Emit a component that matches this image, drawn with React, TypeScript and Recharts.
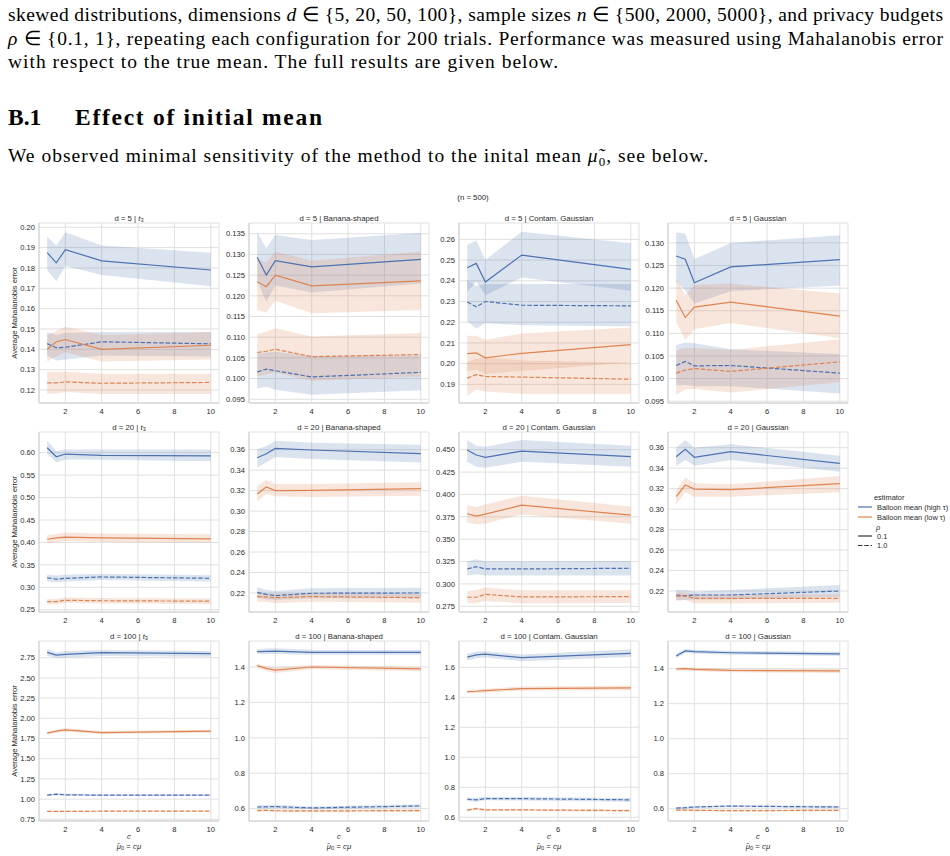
import React from 'react';
import { ComposedChart, Line, Area, XAxis, YAxis, CartesianGrid } from 'recharts';

type Tri = [number, number, number]; // [mean, lower, upper]

const C_VALUES = [1, 1.5, 2, 4, 10];
const X_TICKS = [2, 4, 6, 8, 10];
const DIMS = [5, 20, 100];
const DISTS = ['t3', 'Banana-shaped', 'Contam. Gaussian', 'Gaussian'];
const ESTIMATORS = ['Balloon mean (high τ)', 'Balloon mean (low τ)'];
const RHOS = ['0.1', '1.0'];

// ---------- d = 5 ----------
const d5_t3_high01: Tri[] = [[0.1875, 0.179, 0.1955], [0.1825, 0.1735, 0.191], [0.189, 0.181, 0.1975], [0.1835, 0.1765, 0.191], [0.179, 0.171, 0.1875]];
const d5_t3_high10: Tri[] = [[0.1428, 0.137, 0.1485], [0.1408, 0.1345, 0.147], [0.141, 0.135, 0.148], [0.1437, 0.137, 0.1485], [0.1427, 0.1365, 0.1485]];
const d5_t3_low01: Tri[] = [[0.140, 0.134, 0.147], [0.1437, 0.1365, 0.149], [0.1448, 0.1385, 0.1512], [0.140, 0.134, 0.147], [0.142, 0.135, 0.1485]];
const d5_t3_low10: Tri[] = [[0.1235, 0.118, 0.129], [0.1235, 0.1183, 0.1288], [0.124, 0.119, 0.129], [0.1233, 0.118, 0.128], [0.1237, 0.118, 0.128]];

const d5_ban_high01: Tri[] = [[0.1293, 0.1235, 0.1354], [0.125, 0.1185, 0.1315], [0.1285, 0.1225, 0.1347], [0.127, 0.1208, 0.1335], [0.1288, 0.123, 0.1352]];
const d5_ban_high10: Tri[] = [[0.1016, 0.0976, 0.106], [0.1023, 0.098, 0.1063], [0.1019, 0.0973, 0.1065], [0.1004, 0.0961, 0.1055], [0.1015, 0.0972, 0.1056]];
const d5_ban_low01: Tri[] = [[0.1234, 0.1166, 0.129], [0.1222, 0.116, 0.128], [0.125, 0.1188, 0.1307], [0.1224, 0.1158, 0.1285], [0.1236, 0.1166, 0.1307]];
const d5_ban_low10: Tri[] = [[0.1063, 0.1005, 0.1107], [0.1066, 0.101, 0.1113], [0.1071, 0.1015, 0.1122], [0.1053, 0.0995, 0.1102], [0.1058, 0.1005, 0.111]];

const d5_con_high01: Tri[] = [[0.2463, 0.2347, 0.2573], [0.2484, 0.2395, 0.2594], [0.2394, 0.233, 0.25], [0.2524, 0.2416, 0.2637], [0.2455, 0.2352, 0.2581]];
const d5_con_high10: Tri[] = [[0.2298, 0.2205, 0.2403], [0.2274, 0.217, 0.2375], [0.23, 0.2195, 0.2385], [0.2282, 0.2185, 0.2385], [0.2279, 0.218, 0.2385]];
const d5_con_low01: Tri[] = [[0.2048, 0.1965, 0.2135], [0.2052, 0.197, 0.2135], [0.2028, 0.195, 0.2115], [0.205, 0.1965, 0.2145], [0.2092, 0.2005, 0.2175]];
const d5_con_low10: Tri[] = [[0.193, 0.1845, 0.2005], [0.1947, 0.1875, 0.2025], [0.1938, 0.1865, 0.203], [0.1935, 0.1855, 0.2015], [0.1925, 0.1855, 0.2005]];

const d5_gau_high01: Tri[] = [[0.1271, 0.1214, 0.1323], [0.1264, 0.1195, 0.1321], [0.1212, 0.1166, 0.1264], [0.1247, 0.1193, 0.130], [0.1263, 0.1206, 0.1317]];
const d5_gau_high10: Tri[] = [[0.1029, 0.0985, 0.1074], [0.1038, 0.0986, 0.108], [0.1028, 0.0983, 0.1078], [0.1029, 0.0983, 0.1065], [0.1012, 0.0967, 0.1054]];
const d5_gau_low01: Tri[] = [[0.1173, 0.1125, 0.1221], [0.1135, 0.1085, 0.1184], [0.1158, 0.1109, 0.1207], [0.1169, 0.1123, 0.121], [0.1138, 0.1089, 0.1188]];
const d5_gau_low10: Tri[] = [[0.1012, 0.0964, 0.1062], [0.1019, 0.0976, 0.1068], [0.1022, 0.0977, 0.1067], [0.1016, 0.0969, 0.1064], [0.1037, 0.0992, 0.1087]];

// ---------- d = 20 ----------
const d20_t3_high01: Tri[] = [[0.611, 0.597, 0.627], [0.591, 0.578, 0.604], [0.597, 0.585, 0.607], [0.594, 0.584, 0.607], [0.593, 0.581, 0.607]];
const d20_t3_high10: Tri[] = [[0.321, 0.313, 0.328], [0.318, 0.311, 0.326], [0.32, 0.313, 0.328], [0.323, 0.316, 0.33], [0.32, 0.313, 0.327]];
const d20_t3_low01: Tri[] = [[0.407, 0.398, 0.416], [0.41, 0.401, 0.419], [0.412, 0.403, 0.422], [0.41, 0.401, 0.42], [0.408, 0.399, 0.418]];
const d20_t3_low10: Tri[] = [[0.268, 0.262, 0.274], [0.268, 0.262, 0.274], [0.271, 0.265, 0.277], [0.27, 0.264, 0.276], [0.269, 0.263, 0.275]];

const d20_ban_high01: Tri[] = [[0.3522, 0.3427, 0.3607], [0.3561, 0.3476, 0.3633], [0.3613, 0.3528, 0.3688], [0.3597, 0.3509, 0.3668], [0.3561, 0.3476, 0.3649]];
const d20_ban_high10: Tri[] = [[0.2206, 0.2154, 0.2255], [0.2187, 0.2138, 0.2229], [0.2174, 0.2131, 0.2219], [0.2197, 0.2148, 0.2245], [0.22, 0.2148, 0.2252]];
const d20_ban_low01: Tri[] = [[0.3167, 0.3095, 0.3242], [0.3236, 0.3167, 0.3304], [0.32, 0.3145, 0.3265], [0.3203, 0.3138, 0.3265], [0.3219, 0.3151, 0.3282]];
const d20_ban_low10: Tri[] = [[0.2164, 0.2115, 0.2203], [0.2161, 0.2115, 0.2193], [0.2154, 0.2099, 0.219], [0.2164, 0.2115, 0.2197], [0.2154, 0.2105, 0.219]];

const d20_con_high01: Tri[] = [[0.4496, 0.4366, 0.4608], [0.4441, 0.431, 0.4545], [0.4414, 0.4299, 0.4534], [0.4485, 0.4366, 0.4608], [0.4422, 0.431, 0.4545]];
const d20_con_high10: Tri[] = [[0.3167, 0.3093, 0.325], [0.3193, 0.3108, 0.3276], [0.3167, 0.3093, 0.325], [0.3167, 0.3093, 0.325], [0.3175, 0.3093, 0.3257]];
const d20_con_low01: Tri[] = [[0.3784, 0.3687, 0.388], [0.3757, 0.3668, 0.3861], [0.378, 0.3676, 0.3888], [0.388, 0.3776, 0.3985], [0.3768, 0.3672, 0.3865]];
const d20_con_low10: Tri[] = [[0.2851, 0.2783, 0.2921], [0.2851, 0.2783, 0.2929], [0.2884, 0.281, 0.2959], [0.2854, 0.2783, 0.2929], [0.2858, 0.2786, 0.2929]];

const d20_gau_high01: Tri[] = [[0.3512, 0.3421, 0.36], [0.3584, 0.348, 0.3675], [0.3506, 0.3424, 0.36], [0.3561, 0.348, 0.3633], [0.3447, 0.3365, 0.3522]];
const d20_gau_high10: Tri[] = [[0.2161, 0.2112, 0.221], [0.2154, 0.2112, 0.221], [0.2161, 0.2118, 0.2193], [0.2161, 0.2118, 0.221], [0.22, 0.2144, 0.2258]];
const d20_gau_low01: Tri[] = [[0.3121, 0.3046, 0.3186], [0.3235, 0.3164, 0.3307], [0.3196, 0.3121, 0.3252], [0.319, 0.3121, 0.3242], [0.3248, 0.3164, 0.3323]];
const d20_gau_low10: Tri[] = [[0.2151, 0.2102, 0.2187], [0.2151, 0.2112, 0.2187], [0.2128, 0.2079, 0.2167], [0.2128, 0.2079, 0.2167], [0.2128, 0.2086, 0.2167]];

// ---------- d = 100 ----------
const d100_t3_high01: Tri[] = [[2.816, 2.775, 2.857], [2.783, 2.75, 2.816], [2.791, 2.75, 2.832], [2.812, 2.771, 2.845], [2.80, 2.762, 2.832]];
const d100_t3_high10: Tri[] = [[1.049, 1.038, 1.06], [1.061, 1.045, 1.075], [1.053, 1.04, 1.065], [1.049, 1.038, 1.06], [1.049, 1.038, 1.06]];
const d100_t3_low01: Tri[] = [[1.816, 1.798, 1.835], [1.841, 1.822, 1.86], [1.857, 1.835, 1.88], [1.824, 1.806, 1.842], [1.841, 1.822, 1.86]];
const d100_t3_low10: Tri[] = [[0.847, 0.838, 0.855], [0.847, 0.838, 0.855], [0.848, 0.84, 0.856], [0.85, 0.842, 0.858], [0.85, 0.842, 0.858]];

const d100_ban_high01: Tri[] = [[1.487, 1.474, 1.50], [1.488, 1.472, 1.505], [1.49, 1.474, 1.506], [1.483, 1.47, 1.497], [1.483, 1.47, 1.497]];
const d100_ban_high10: Tri[] = [[0.609, 0.60, 0.618], [0.61, 0.601, 0.62], [0.611, 0.602, 0.62], [0.604, 0.596, 0.612], [0.615, 0.606, 0.624]];
const d100_ban_low01: Tri[] = [[1.4075, 1.395, 1.42], [1.392, 1.378, 1.405], [1.383, 1.366, 1.398], [1.40, 1.388, 1.412], [1.389, 1.376, 1.402]];
const d100_ban_low10: Tri[] = [[0.589, 0.582, 0.596], [0.59, 0.583, 0.597], [0.588, 0.581, 0.595], [0.587, 0.58, 0.594], [0.589, 0.582, 0.596]];

const d100_con_high01: Tri[] = [[1.667, 1.645, 1.69], [1.682, 1.66, 1.705], [1.687, 1.665, 1.707], [1.664, 1.64, 1.685], [1.693, 1.668, 1.72]];
const d100_con_high10: Tri[] = [[0.72, 0.708, 0.732], [0.716, 0.703, 0.73], [0.724, 0.713, 0.735], [0.724, 0.712, 0.735], [0.716, 0.703, 0.728]];
const d100_con_low01: Tri[] = [[1.438, 1.425, 1.452], [1.44, 1.428, 1.452], [1.444, 1.43, 1.456], [1.458, 1.444, 1.472], [1.462, 1.447, 1.478]];
const d100_con_low10: Tri[] = [[0.647, 0.638, 0.655], [0.658, 0.648, 0.665], [0.649, 0.641, 0.656], [0.649, 0.641, 0.656], [0.644, 0.636, 0.651]];

const d100_gau_high01: Tri[] = [[1.472, 1.46, 1.485], [1.501, 1.49, 1.512], [1.497, 1.486, 1.508], [1.491, 1.48, 1.502], [1.484, 1.472, 1.497]];
const d100_gau_high10: Tri[] = [[0.604, 0.598, 0.61], [0.606, 0.60, 0.612], [0.61, 0.604, 0.616], [0.615, 0.608, 0.622], [0.61, 0.603, 0.617]];
const d100_gau_low01: Tri[] = [[1.398, 1.388, 1.408], [1.40, 1.39, 1.41], [1.396, 1.386, 1.406], [1.39, 1.38, 1.40], [1.387, 1.375, 1.397]];
const d100_gau_low10: Tri[] = [[0.592, 0.587, 0.597], [0.592, 0.587, 0.597], [0.591, 0.586, 0.596], [0.589, 0.584, 0.594], [0.591, 0.586, 0.596]];

// ---------- y tick labels per panel ----------
const TICKS_d5_t3 = ['0.12', '0.13', '0.14', '0.15', '0.16', '0.17', '0.18', '0.19', '0.20'];
const TICKS_d5_ban = ['0.095', '0.100', '0.105', '0.110', '0.115', '0.120', '0.125', '0.130', '0.135'];
const TICKS_d5_con = ['0.19', '0.20', '0.21', '0.22', '0.23', '0.24', '0.25', '0.26'];
const TICKS_d5_gau = ['0.095', '0.100', '0.105', '0.110', '0.115', '0.120', '0.125', '0.130'];
const TICKS_d20_t3 = ['0.25', '0.30', '0.35', '0.40', '0.45', '0.50', '0.55', '0.60'];
const TICKS_d20_ban = ['0.22', '0.24', '0.26', '0.28', '0.30', '0.32', '0.34', '0.36'];
const TICKS_d20_con = ['0.275', '0.300', '0.325', '0.350', '0.375', '0.400', '0.425', '0.450'];
const TICKS_d20_gau = ['0.22', '0.24', '0.26', '0.28', '0.30', '0.32', '0.34', '0.36'];
const TICKS_d100_t3 = ['0.75', '1.00', '1.25', '1.50', '1.75', '2.00', '2.25', '2.50', '2.75'];
const TICKS_d100_ban = ['0.6', '0.8', '1.0', '1.2', '1.4'];
const TICKS_d100_con = ['0.6', '0.8', '1.0', '1.2', '1.4', '1.6'];
const TICKS_d100_gau = ['0.6', '0.8', '1.0', '1.2', '1.4'];

type Panel = {
  dim: number; dist: string;
  high01: Tri[]; high10: Tri[]; low01: Tri[]; low10: Tri[];
  ticks: string[]; domain: [number, number];
};

const PANELS: Panel[][] = [
  [
    { dim: DIMS[0], dist: DISTS[0], high01: d5_t3_high01, high10: d5_t3_high10, low01: d5_t3_low01, low10: d5_t3_low10, ticks: TICKS_d5_t3, domain: [0.1136, 0.2021] },
    { dim: DIMS[0], dist: DISTS[1], high01: d5_ban_high01, high10: d5_ban_high10, low01: d5_ban_low01, low10: d5_ban_low10, ticks: TICKS_d5_ban, domain: [0.0941, 0.1376] },
    { dim: DIMS[0], dist: DISTS[2], high01: d5_con_high01, high10: d5_con_high10, low01: d5_con_low01, low10: d5_con_low10, ticks: TICKS_d5_con, domain: [0.181, 0.2679] },
    { dim: DIMS[0], dist: DISTS[3], high01: d5_gau_high01, high10: d5_gau_high10, low01: d5_gau_low01, low10: d5_gau_low10, ticks: TICKS_d5_gau, domain: [0.0946, 0.1344] },
  ],
  [
    { dim: DIMS[1], dist: DISTS[0], high01: d20_t3_high01, high10: d20_t3_high10, low01: d20_t3_low01, low10: d20_t3_low10, ticks: TICKS_d20_t3, domain: [0.2449, 0.6461] },
    { dim: DIMS[1], dist: DISTS[1], high01: d20_ban_high01, high10: d20_ban_high10, low01: d20_ban_low01, low10: d20_ban_low10, ticks: TICKS_d20_ban, domain: [0.2014, 0.3773] },
    { dim: DIMS[1], dist: DISTS[2], high01: d20_con_high01, high10: d20_con_high10, low01: d20_con_low01, low10: d20_con_low10, ticks: TICKS_d20_con, domain: [0.2686, 0.4698] },
    { dim: DIMS[1], dist: DISTS[3], high01: d20_gau_high01, high10: d20_gau_high10, low01: d20_gau_low01, low10: d20_gau_low10, ticks: TICKS_d20_gau, domain: [0.1995, 0.3753] },
  ],
  [
    { dim: DIMS[2], dist: DISTS[0], high01: d100_t3_high01, high10: d100_t3_high10, low01: d100_t3_low01, low10: d100_t3_low10, ticks: TICKS_d100_t3, domain: [0.729, 2.957] },
    { dim: DIMS[2], dist: DISTS[1], high01: d100_ban_high01, high10: d100_ban_high10, low01: d100_ban_low01, low10: d100_ban_low10, ticks: TICKS_d100_ban, domain: [0.530, 1.547] },
    { dim: DIMS[2], dist: DISTS[2], high01: d100_con_high01, high10: d100_con_high10, low01: d100_con_low01, low10: d100_con_low10, ticks: TICKS_d100_con, domain: [0.575, 1.775] },
    { dim: DIMS[2], dist: DISTS[3], high01: d100_gau_high01, high10: d100_gau_high10, low01: d100_gau_low01, low10: d100_gau_low10, ticks: TICKS_d100_gau, domain: [0.530, 1.558] },
  ],
];

// ---------- layout / style ----------
const COL_LEFT = [39, 249, 459, 668];
const ROW_TOP = [223, 432, 641];
const PLOT_W = 180;
const PLOT_H = 180;
const Y_AXIS_W = 45;
const X_AXIS_H = 22;
const M_TOP = 5;
const M_RIGHT = 6;

const BLUE = '#4c72b0';
const ORANGE = '#dd8452';
const GRID = '#e0e0e0';
const SPINE = '#d0d0d0';
const TEXT = '#2a2a2a';
const SANS = 'Liberation Sans, Arial, Helvetica, sans-serif';
const SERIF = 'Liberation Serif, Times New Roman, serif';
const TICK_FS = 7.6;

function buildRows(p: Panel) {
  return C_VALUES.map((c, i) => ({
    c,
    h01: p.high01[i][0], h01b: [p.high01[i][1], p.high01[i][2]],
    h10: p.high10[i][0], h10b: [p.high10[i][1], p.high10[i][2]],
    l01: p.low01[i][0], l01b: [p.low01[i][1], p.low01[i][2]],
    l10: p.low10[i][0], l10b: [p.low10[i][1], p.low10[i][2]],
  }));
}

function PanelChart({ p, r, c }: { p: Panel; r: number; c: number }) {
  const rows = buildRows(p);
  const ticks = p.ticks.map(Number);
  const dec = p.ticks[0].split('.')[1]?.length ?? 0;
  const tickStyle = { fontSize: TICK_FS, fill: TEXT, style: { fontFamily: SANS } };
  return (
    <div style={{ position: 'absolute', left: COL_LEFT[c] - Y_AXIS_W, top: ROW_TOP[r] - M_TOP }}>
      <ComposedChart
        width={Y_AXIS_W + PLOT_W + M_RIGHT}
        height={M_TOP + PLOT_H + X_AXIS_H}
        data={rows}
        margin={{ top: M_TOP, right: M_RIGHT, bottom: 0, left: 0 }}
        style={{ fontFamily: SANS }}
      >
        <CartesianGrid stroke={GRID} strokeWidth={1} />
        <XAxis
          type="number" dataKey="c" domain={[0.55, 10.45]} ticks={X_TICKS} interval={0}
          height={X_AXIS_H} tickLine={false} tickSize={3} tickMargin={2.5}
          axisLine={{ stroke: SPINE, strokeWidth: 1 }}
          tick={tickStyle}
        />
        <YAxis
          type="number" domain={p.domain} ticks={ticks} interval={0} width={Y_AXIS_W}
          tickLine={false} tickSize={2} tickMargin={2}
          axisLine={{ stroke: SPINE, strokeWidth: 1 }}
          tickFormatter={(v: number) => v.toFixed(dec)}
          tick={tickStyle}
        />
        <Area type="linear" dataKey="h01b" stroke="none" fill={BLUE} fillOpacity={0.2} isAnimationActive={false} activeDot={false} />
        <Area type="linear" dataKey="h10b" stroke="none" fill={BLUE} fillOpacity={0.2} isAnimationActive={false} activeDot={false} />
        <Area type="linear" dataKey="l01b" stroke="none" fill={ORANGE} fillOpacity={0.2} isAnimationActive={false} activeDot={false} />
        <Area type="linear" dataKey="l10b" stroke="none" fill={ORANGE} fillOpacity={0.2} isAnimationActive={false} activeDot={false} />
        <Line type="linear" dataKey="h01" stroke={BLUE} strokeWidth={1.2} dot={false} activeDot={false} isAnimationActive={false} />
        <Line type="linear" dataKey="h10" stroke={BLUE} strokeWidth={1.2} strokeDasharray="4.5 1.8" dot={false} activeDot={false} isAnimationActive={false} />
        <Line type="linear" dataKey="l01" stroke={ORANGE} strokeWidth={1.2} dot={false} activeDot={false} isAnimationActive={false} />
        <Line type="linear" dataKey="l10" stroke={ORANGE} strokeWidth={1.2} strokeDasharray="4.5 1.8" dot={false} activeDot={false} isAnimationActive={false} />
      </ComposedChart>
    </div>
  );
}

function PanelTitle({ p, r, c }: { p: Panel; r: number; c: number }) {
  const cx = COL_LEFT[c] + PLOT_W / 2;
  const y = ROW_TOP[r] - 2.5;
  return (
    <text x={cx} y={y} textAnchor="middle" fontSize={7.8} fill={TEXT} style={{ fontFamily: SANS }}>
      {`d = ${p.dim} | `}
      {p.dist === 't3' ? (
        <>
          <tspan fontStyle="italic">t</tspan>
          <tspan fontSize={5.6} dy={1.6}>3</tspan>
        </>
      ) : p.dist}
    </text>
  );
}

export default function App() {
  return (
    <div style={{ position: 'absolute', left: 0, top: 0, width: 950, height: 856, background: '#ffffff', overflow: 'hidden' }}>
      {PANELS.map((row, r) => row.map((p, c) => <PanelChart key={`${r}-${c}`} p={p} r={r} c={c} />))}
      <svg width={950} height={856} style={{ position: 'absolute', left: 0, top: 0, pointerEvents: 'none' }}>
        {/* paper text */}
        <g fill="#000" fontSize={19.5} style={{ fontFamily: SERIF }}>
          <text x={8} y={21} textLength={935} lengthAdjust="spacing">
            skewed distributions, dimensions <tspan fontStyle="italic">d</tspan> ∈ {'{'}5, 20, 50, 100{'}'}, sample sizes <tspan fontStyle="italic">n</tspan> ∈ {'{'}500, 2000, 5000{'}'}, and privacy budgets
          </text>
          <text x={8} y={45} textLength={935} lengthAdjust="spacing">
            <tspan fontStyle="italic">ρ</tspan> ∈ {'{'}0.1, 1{'}'}, repeating each configuration for 200 trials. Performance was measured using Mahalanobis error
          </text>
          <text x={8} y={68} textLength={550} lengthAdjust="spacing">
            with respect to the true mean. The full results are given below.
          </text>
          <text x={8} y={125} fontWeight="bold" fontSize={23.5}>B.1</text>
          <text x={75} y={125} fontWeight="bold" fontSize={23.5} textLength={247} lengthAdjust="spacing">Effect of initial mean</text>
          <text x={8} y={162} textLength={700} lengthAdjust="spacing">
            We observed minimal sensitivity of the method to the inital mean <tspan fontStyle="italic">μ̃</tspan><tspan fontSize={13} dy={4}>0</tspan><tspan dy={-4}>, see below.</tspan>
          </text>
        </g>

        {/* figure suptitle */}
        <text x={473} y={200} textAnchor="middle" fontSize={7.8} fill={TEXT} style={{ fontFamily: SANS }}>(n = 500)</text>

        {PANELS.map((row, r) => row.map((p, c) => <PanelTitle key={`t${r}-${c}`} p={p} r={r} c={c} />))}

        {/* y axis labels */}
        {ROW_TOP.map((t, r) => (
          <text key={`yl${r}`} transform={`translate(16.5, ${t + PLOT_H / 2}) rotate(-90)`} textAnchor="middle"
            fontSize={7.6} fill={TEXT} style={{ fontFamily: SANS }}>Average Mahalanobis error</text>
        ))}

        {/* x axis labels (bottom row) */}
        {COL_LEFT.map((l, c) => (
          <g key={`xl${c}`} fill={TEXT} fontSize={7.8} style={{ fontFamily: SANS }}>
            <text x={l + PLOT_W / 2} y={838.5} textAnchor="middle" fontStyle="italic">c</text>
            <text x={l + PLOT_W / 2} y={848.5} textAnchor="middle">
              <tspan fontStyle="italic">μ̃</tspan><tspan fontSize={5.6} dy={1.6}>0</tspan><tspan dy={-1.6}> = </tspan><tspan fontStyle="italic">cμ</tspan>
            </text>
          </g>
        ))}

        {/* legend */}
        <g fill={TEXT} fontSize={7.4} style={{ fontFamily: SANS }}>
          <text x={874} y={499.5}>estimator</text>
          <line x1={858} x2={872} y1={507} y2={507} stroke={BLUE} strokeWidth={1.2} />
          <text x={877} y={509.5}>{ESTIMATORS[0]}</text>
          <line x1={858} x2={872} y1={517} y2={517} stroke={ORANGE} strokeWidth={1.2} />
          <text x={877} y={519.5}>{ESTIMATORS[1]}</text>
          <text x={876} y={529.5} fontStyle="italic">ρ</text>
          <line x1={858} x2={872} y1={536} y2={536} stroke="#333" strokeWidth={1.2} />
          <text x={877} y={538.5}>{RHOS[0]}</text>
          <line x1={858} x2={872} y1={545.5} y2={545.5} stroke="#333" strokeWidth={1.2} strokeDasharray="4.5 1.8" />
          <text x={877} y={548}>{RHOS[1]}</text>
        </g>
      </svg>
    </div>
  );
}
